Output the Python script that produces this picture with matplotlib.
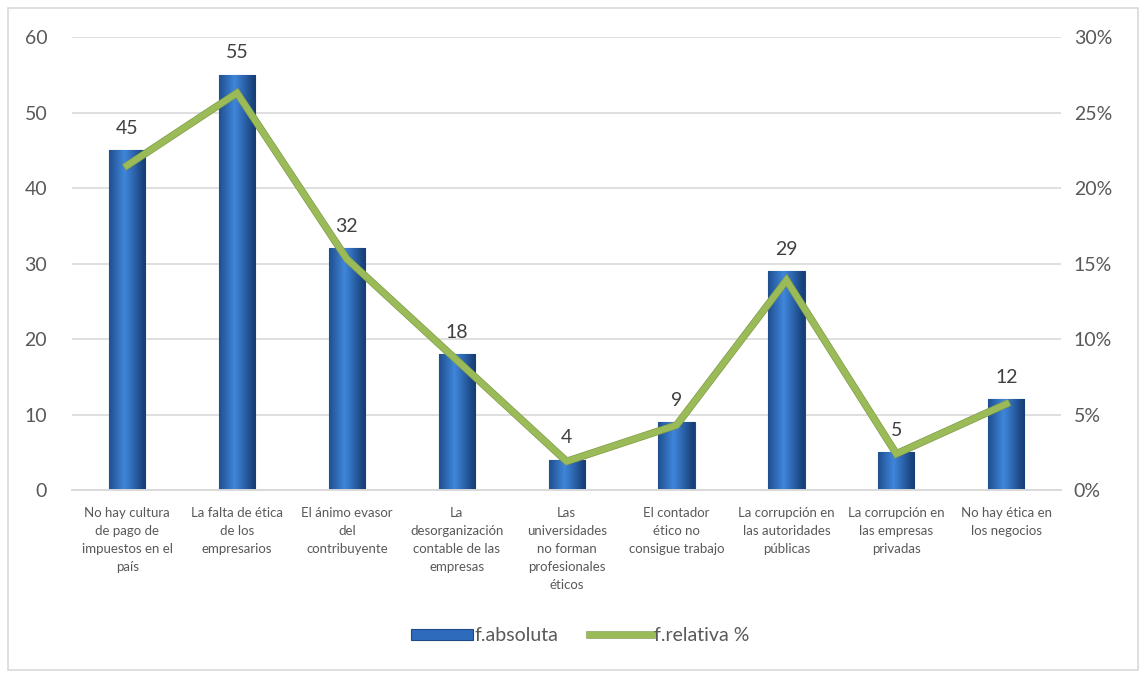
import numpy as np
import matplotlib
matplotlib.use("Agg")
import matplotlib.pyplot as plt
import matplotlib.patheffects as pe
from matplotlib.patches import Rectangle
from matplotlib.ticker import FuncFormatter

plt.rcParams['font.family'] = ['Lato', 'DejaVu Sans']

# datos
categorias = [
    "No hay cultura\nde pago de\nimpuestos en el\npaís",
    "La falta de ética\nde los\nempresarios",
    "El ánimo evasor\ndel\ncontribuyente",
    "La\ndesorganización\ncontable de las\nempresas",
    "Las\nuniversidades\nno forman\nprofesionales\néticos",
    "El contador\nético no\nconsigue trabajo",
    "La corrupción en\nlas autoridades\npúblicas",
    "La corrupción en\nlas empresas\nprivadas",
    "No hay ética en\nlos negocios",
]
f_absoluta = [45, 55, 32, 18, 4, 9, 29, 5, 12]
f_relativa = [21.5, 26.3, 15.3, 8.6, 1.9, 4.3, 13.9, 2.4, 5.7]

fig = plt.figure(figsize=(11.46, 6.75), dpi=100)
ax = fig.add_axes([0.063, 0.274, 0.863, 0.671])
ax2 = ax.twinx()

x = np.arange(len(categorias))
bars = ax.bar(x, f_absoluta, width=0.33, color="#2e6bbd", edgecolor="#1d4a86",
              linewidth=0.8, zorder=2, label="f.absoluta")

# degradado horizontal tipo cilindro sobre cada barra
grad = np.linspace(0, 1, 64)
shade = 1 - 0.55 * np.abs(grad - 0.42) * 2
cmap = matplotlib.colors.LinearSegmentedColormap.from_list("az", ["#173f78", "#3f86db"])
for b in bars:
    bx, by = b.get_x(), b.get_y()
    w, h = b.get_width(), b.get_height()
    im = ax.imshow(shade[None, :], extent=[bx, bx + w, by, by + h], aspect="auto",
                   cmap=cmap, vmin=0.4, vmax=1, zorder=2.5)
    im.set_clip_path(b)
    ax.text(bx + w / 2, by + h + 1.8, str(int(h)), ha="center", va="bottom",
            fontsize=14, color="#404040", zorder=5)

ax.set_xlim(-0.5, len(categorias) - 0.5)
ax.set_ylim(0, 60)
ax.set_yticks(range(0, 61, 10))
ax.grid(axis="y", color="#d9d9d9", linewidth=1.2, zorder=0)
ax.set_axisbelow(True)
ax.set_xticks(x)
ax.set_xticklabels(categorias, fontsize=9.5, color="#595959", linespacing=1.6)
ax.tick_params(axis="x", length=0, pad=12)
ax.tick_params(axis="y", length=0, pad=18, labelsize=14, labelcolor="#595959")

ax2.plot(x, f_relativa, color="#9bbb59", linewidth=4.4, zorder=4,
         solid_joinstyle="miter", label="f.relativa %",
         path_effects=[pe.Stroke(linewidth=5.4, foreground="#819c4a"), pe.Normal()])
ax2.set_ylim(0, 30)
ax2.set_yticks(range(0, 31, 5))
ax2.yaxis.set_major_formatter(FuncFormatter(lambda v, p: f"{int(v)}%"))
ax2.tick_params(axis="y", length=0, pad=9, labelsize=14, labelcolor="#595959")

for a in (ax, ax2):
    for s in ("top", "left", "right"):
        a.spines[s].set_visible(False)
    a.spines["bottom"].set_color("#d9d9d9")
    a.spines["bottom"].set_linewidth(1.2)

h1, l1 = ax.get_legend_handles_labels()
h2, l2 = ax2.get_legend_handles_labels()
fig.legend(h1 + h2, l1 + l2, loc="center", bbox_to_anchor=(0.506, 0.058), ncol=2,
           frameon=False, fontsize=14, labelcolor="#595959", handlelength=3.2,
           handletextpad=0.1, columnspacing=1.6, handleheight=0.5)

fig.patches.append(Rectangle((0.007, 0.007), 0.986, 0.981, transform=fig.transFigure,
                             fill=False, edgecolor="#d9d9d9", linewidth=1.2))

fig.savefig("out.png", dpi=100)
